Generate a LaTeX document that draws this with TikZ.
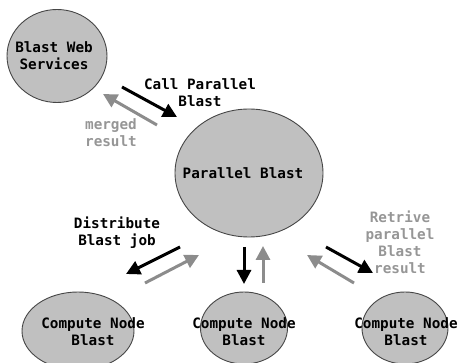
\documentclass[tikz,border=0pt]{standalone}
\usepackage{fontspec}
\setmonofont{DejaVu Sans Mono}
\usetikzlibrary{arrows.meta,shapes.geometric}
\definecolor{ellfill}{RGB}{192,192,192}
\definecolor{ellline}{RGB}{70,70,70}
\definecolor{arrgray}{RGB}{140,140,140}
\definecolor{txtgray}{RGB}{150,150,150}
\begin{document}
\begin{tikzpicture}[x=1pt,y=-1pt,
  ell/.style={ellipse,draw=ellline,fill=ellfill,line width=0.9pt,inner sep=0pt},
  lbl/.style={font=\ttfamily\bfseries\fontsize{14.3}{17}\selectfont,align=center,inner sep=0pt,text=black},
  glbl/.style={lbl,text=txtgray},
  blk/.style={line width=3pt,draw=black,-{Triangle[length=14pt,width=14pt]}},
  gry/.style={line width=3pt,draw=arrgray,-{Triangle[length=14pt,width=14pt]}}]
\useasboundingbox (0,0) rectangle (461,363);
% ellipses
\node[ell,minimum width=100pt,minimum height=93pt] (bws) at (57,56) {};
\node[ell,minimum width=148pt,minimum height=128pt] (pb) at (249,173) {};
\node[ell,minimum width=112pt,minimum height=78pt] (cn1) at (78,331) {};
\node[ell,minimum width=87pt,minimum height=72pt] (cn2) at (244,328) {};
\node[ell,minimum width=86pt,minimum height=72pt] (cn3) at (405,328) {};
% texts in ellipses
\node[lbl] (tbws) at (54,56) {Blast Web\\Services};
\node[lbl] (tpb) at (243,173) {Parallel Blast};
\node[lbl] (tcn1) at (93,332) {Compute Node\\Blast};
\node[lbl] (tcn2) at (244,332) {Compute Node\\Blast};
\node[lbl] (tcn3) at (406,332) {Compute Node\\Blast};
% labels
\node[lbl] (lcall) at (200,93) {Call Parallel\\Blast};
\node[glbl] (lmerge) at (111,133) {merged\\result};
\node[lbl] (ldist) at (117,233) {Distribute\\Blast job};
\node[glbl] (lret) at (400,242) {Retrive\\parallel\\Blast\\result};
% arrow coordinates
\coordinate (a1s) at (122,87);  \coordinate (a1e) at (177,117);
\coordinate (a2s) at (157,125); \coordinate (a2e) at (103,94);
\coordinate (b1s) at (180,247); \coordinate (b1e) at (126,274);
\coordinate (b2s) at (145,283); \coordinate (b2e) at (199,255);
\coordinate (c1s) at (244,247); \coordinate (c1e) at (244,284);
\coordinate (c2s) at (263,283); \coordinate (c2e) at (263,246);
\coordinate (d1s) at (326,247); \coordinate (d1e) at (373,273);
\coordinate (d2s) at (354,283); \coordinate (d2e) at (307,255);
\draw[blk] (a1s) -- (a1e);
\draw[gry] (a2s) -- (a2e);
\draw[blk] (b1s) -- (b1e);
\draw[gry] (b2s) -- (b2e);
\draw[blk] (c1s) -- (c1e);
\draw[gry] (c2s) -- (c2e);
\draw[blk] (d1s) -- (d1e);
\draw[gry] (d2s) -- (d2e);
\end{tikzpicture}
\end{document}
